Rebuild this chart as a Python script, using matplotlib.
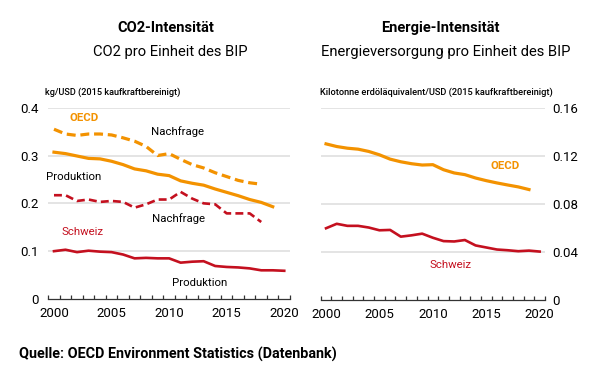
import matplotlib
matplotlib.use("Agg")
import matplotlib.pyplot as plt
import numpy as np

plt.rcParams['font.family'] = ['Roboto', 'DejaVu Sans']

# ---- data ----
years_oecd_dem = list(range(2000, 2019))
oecd_demand = [0.355, 0.345, 0.342, 0.345, 0.345, 0.343, 0.337, 0.330, 0.319, 0.300,
               0.304, 0.292, 0.281, 0.274, 0.264, 0.256, 0.248, 0.243, 0.240]
years_oecd_prod = list(range(2000, 2020))
oecd_prod = [0.307, 0.304, 0.299, 0.294, 0.293, 0.288, 0.281, 0.272, 0.268, 0.261,
             0.258, 0.247, 0.242, 0.238, 0.230, 0.223, 0.216, 0.208, 0.202, 0.193]
years_ch_dem = list(range(2000, 2019))
ch_demand = [0.217, 0.217, 0.205, 0.208, 0.203, 0.205, 0.203, 0.191, 0.198, 0.208,
             0.208, 0.224, 0.210, 0.200, 0.198, 0.179, 0.179, 0.179, 0.161]
years_ch_prod = list(range(2000, 2021))
ch_prod = [0.100, 0.103, 0.098, 0.101, 0.099, 0.098, 0.093, 0.085, 0.086, 0.085,
           0.085, 0.076, 0.078, 0.079, 0.069, 0.067, 0.066, 0.064, 0.060, 0.060, 0.059]

years_oecd_en = list(range(2000, 2020))
oecd_energy = [0.1299, 0.1277, 0.1263, 0.1255, 0.1236, 0.1208, 0.1172, 0.1150, 0.1134, 0.1123,
               0.1126, 0.1084, 0.1057, 0.1043, 0.1015, 0.0993, 0.0974, 0.0957, 0.0941, 0.0919]
years_ch_en = list(range(2000, 2021))
ch_energy = [0.0597, 0.0634, 0.0617, 0.0617, 0.0603, 0.0580, 0.0583, 0.0527, 0.0538, 0.0552,
             0.0518, 0.0490, 0.0487, 0.0499, 0.0454, 0.0437, 0.0420, 0.0414, 0.0406, 0.0411, 0.0403]

left_yticks = [0, 0.1, 0.2, 0.3, 0.4]
left_yticklabels = ['0', '0.1', '0.2', '0.3', '0.4']
right_yticks = [0, 0.04, 0.08, 0.12, 0.16]
right_yticklabels = ['0', '0.04', '0.08', '0.12', '0.16']
xticks = [2000, 2005, 2010, 2015, 2020]

ORANGE = '#f39200'
RED = '#c4101f'
GRID = '#dcdcdc'

W, H = 600, 378
fig = plt.figure(figsize=(W / 100, H / 100), dpi=100)


def rect(x0, y_top, x1, y_bot):
    return [x0 / W, 1 - y_bot / H, (x1 - x0) / W, (y_bot - y_top) / H]


ax1 = fig.add_axes(rect(48, 107.7, 290, 299))
ax2 = fig.add_axes(rect(320.7, 107.7, 545, 300))


def style(ax, yticks, ylabels, ymax, xlim, right=False):
    ax.set_xlim(*xlim)
    ax.set_ylim(0, ymax)
    for s in ['top', 'right', 'left']:
        ax.spines[s].set_visible(False)
    ax.spines['bottom'].set_color('#333333')
    ax.spines['bottom'].set_linewidth(0.9)
    for yv in yticks[1:]:
        ax.axhline(yv, color=GRID, lw=1.1, zorder=0)
    ax.set_yticks(yticks)
    ax.set_yticklabels(ylabels)
    if right:
        ax.yaxis.tick_right()
    ax.tick_params(axis='y', length=0, pad=5 if right else 7, labelsize=9.5)
    ax.set_xticks(xticks)
    ax.set_xticklabels([str(x) for x in xticks])
    ax.set_xticks(np.arange(1999.5, 2021, 1.0), minor=True)
    ax.tick_params(axis='x', which='major', length=0, pad=6, labelsize=9.5)
    ax.tick_params(axis='x', which='minor', direction='in', length=3, width=0.9,
                   color='#333333')


style(ax1, left_yticks, left_yticklabels, 0.4, (1999.48, 2020.45))
style(ax2, right_yticks, right_yticklabels, 0.16, (1999.6, 2020.3), right=True)

# left panel lines
ax1.plot(years_oecd_dem, oecd_demand, color=ORANGE, lw=2.3, dashes=(2.8, 1.5))
ax1.plot(years_oecd_prod, oecd_prod, color=ORANGE, lw=2.3)
ax1.plot(years_ch_dem, ch_demand, color=RED, lw=1.9, dashes=(3, 1.6))
ax1.plot(years_ch_prod, ch_prod, color=RED, lw=1.9)

# right panel lines
ax2.plot(years_oecd_en, oecd_energy, color=ORANGE, lw=2.3)
ax2.plot(years_ch_en, ch_energy, color=RED, lw=1.9)

# annotations (figure pixel coordinates)
def ftext(x, y, s, **kw):
    fig.text(x / W, 1 - y / H, s, **kw)

ann = dict(fontsize=8.2, va='center')
ftext(70, 117.7, 'OECD', color=ORANGE, fontweight='bold', **ann)
ftext(151, 131.7, 'Nachfrage', color='black', **ann)
ftext(46, 176.7, 'Produktion', color='black', **ann)
ftext(152, 219, 'Nachfrage', color='black', **ann)
ftext(62, 232, 'Schweiz', color=RED, **ann)
ftext(172, 282.7, 'Produktion', color='black', **ann)
ftext(490.7, 166, 'OECD', color=ORANGE, fontweight='bold', **ann)
ftext(430, 265, 'Schweiz', color=RED, **ann)

# unit labels
ftext(45, 92, 'kg/USD (2015 kaufkraftbereinigt)', fontsize=6.6, va='center',
      fontweight='medium')
ftext(320, 92, 'Kilotonne erdöläquivalent/USD (2015 kaufkraftbereinigt)', fontsize=6.7,
      va='center', fontweight='medium')

# titles
ftext(166, 28, 'CO2-Intensität', fontsize=10.5, fontweight='bold', ha='center', va='center')
ftext(170, 52, 'CO2 pro Einheit des BIP', fontsize=10.6, ha='center', va='center')
ftext(440, 28, 'Energie-Intensität', fontsize=10.5, fontweight='bold', ha='center', va='center')
ftext(446, 52, 'Energieversorgung pro Einheit des BIP', fontsize=10.6, ha='center', va='center')

# source
ftext(19, 354, 'Quelle: OECD Environment Statistics (Datenbank)', fontsize=10.4,
      fontweight='bold', va='center')

fig.savefig('out.png', dpi=100)
